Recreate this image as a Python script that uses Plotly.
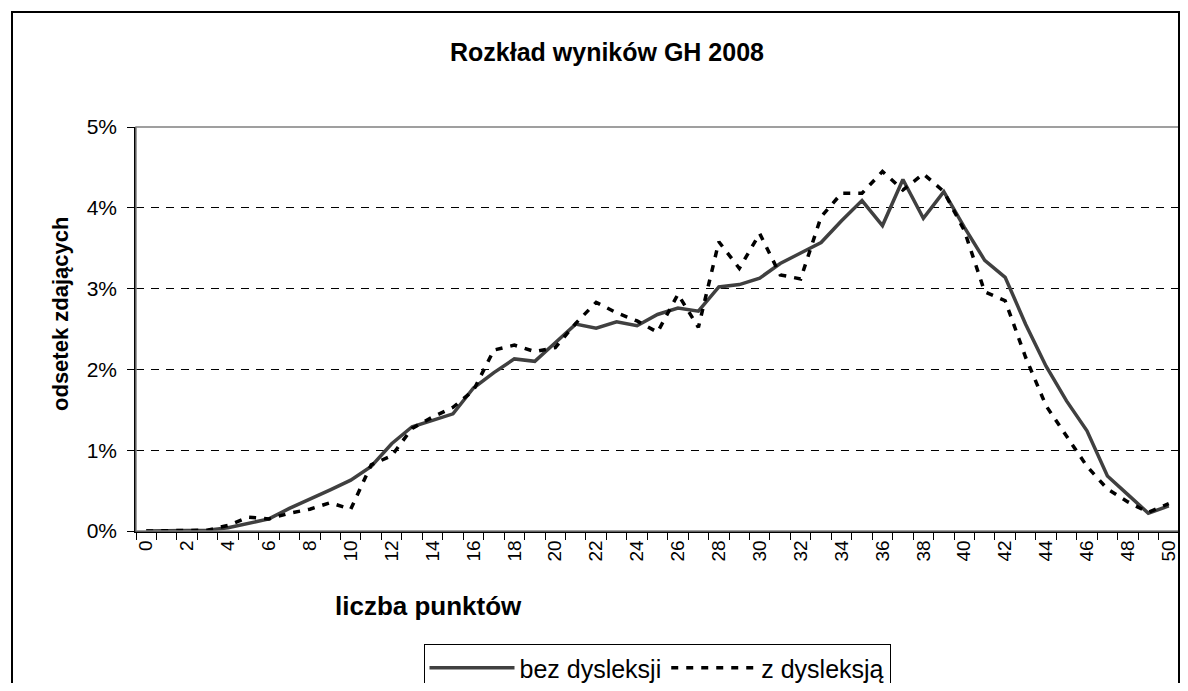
"""
Rozkład wyników GH 2008 - uczniowie bez dysleksji vs z dysleksją.
"""

import plotly.graph_objects as go

# Liczba punktów (0-50)
points = list(range(51))

# Odsetek zdających [%]
bez_dysleksji = [
    0.00, 0.00, 0.01, 0.01, 0.04, 0.10, 0.15, 0.28, 0.39, 0.51,
    0.63, 0.80, 1.08, 1.29, 1.37, 1.45, 1.77, 1.96, 2.13, 2.10,
    2.33, 2.56, 2.51, 2.59, 2.54, 2.68, 2.76, 2.72, 3.02, 3.05,
    3.13, 3.31, 3.44, 3.57, 3.84, 4.09, 3.78, 4.35, 3.87, 4.20,
    3.76, 3.35, 3.14, 2.56, 2.04, 1.61, 1.24, 0.68, 0.45, 0.22,
    0.31,
]
z_dysleksja = [
    0.00, 0.00, 0.00, 0.01, 0.07, 0.17, 0.15, 0.22, 0.27, 0.35,
    0.27, 0.82, 0.93, 1.27, 1.41, 1.53, 1.74, 2.24, 2.30, 2.22,
    2.27, 2.57, 2.83, 2.70, 2.60, 2.46, 2.93, 2.52, 3.58, 3.25,
    3.68, 3.17, 3.12, 3.89, 4.18, 4.18, 4.45, 4.22, 4.42, 4.20,
    3.72, 2.96, 2.85, 2.15, 1.55, 1.18, 0.80, 0.52, 0.36, 0.23,
    0.34,
]

y_ticks = [0, 1, 2, 3, 4, 5]
y_labels = ["0%", "1%", "2%", "3%", "4%", "5%"]
x_labels = list(range(0, 51, 2))

FONT = "Liberation Sans, Arial, sans-serif"

# strona html ma domyślny margines 8px - przesuwamy cały wykres o 8px
# i zmniejszamy go tak, by nie pojawiły się paski przewijania
OFF = 8
W, H = 1188 - 2 * OFF, 691 - 2 * OFF
PL, PR, PT, PB = 136, 1179, 127, 531   # obszar wykresu w pikselach strony
PW, PH = PR - PL, PB - PT


def px(x):
    return (x - PL) / PW


def py(y):
    return (PB - y) / PH


fig = go.Figure()

fig.add_trace(go.Scatter(
    x=points, y=bez_dysleksji, name="bez dysleksji",
    mode="lines", line=dict(color="#404040", width=3.5),
))
fig.add_trace(go.Scatter(
    x=points, y=z_dysleksja, name="z dysleksją",
    mode="lines", line=dict(color="black", width=3.5, dash="7px,8px"),
))

fig.update_xaxes(
    range=[-0.5, 50.5],
    tickvals=x_labels,
    ticktext=[str(v) for v in x_labels],
    tickangle=-90,
    ticks="",
    minor=dict(ticks="outside", tick0=0.5, dtick=1, ticklen=7,
               tickcolor="black", tickwidth=1),
    showline=True, linecolor="black", linewidth=1.5,
    showgrid=False, zeroline=False,
    tickfont=dict(family=FONT, size=19, color="black"),
)
fig.update_yaxes(
    range=[0, 5],
    tickvals=y_ticks,
    ticktext=y_labels,
    ticks="outside", ticklen=7, tickcolor="black",
    ticklabelstandoff=6,
    showline=True, linecolor="black", linewidth=1.5,
    showgrid=True, gridcolor="black", gridwidth=1, griddash="8px,7px",
    zeroline=False,
    tickfont=dict(family=FONT, size=21, color="black"),
)

# ramka obszaru wykresu i całego wykresu
fig.add_shape(type="rect", xref="paper", yref="paper", x0=0, x1=1, y0=0, y1=1,
              line=dict(color="#808080", width=1.5), layer="above")
fig.add_shape(type="rect", xref="paper", yref="paper",
              x0=px(12), x1=px(1179), y0=py(760), y1=py(12),
              line=dict(color="black", width=2), layer="above")

fig.add_annotation(text="<b>Rozkład wyników GH 2008</b>", xref="paper", yref="paper",
                   x=px(607), y=py(52), showarrow=False,
                   xanchor="center", yanchor="middle",
                   font=dict(family=FONT, size=25, color="black"))
fig.add_annotation(text="<b>liczba punktów</b>", xref="paper", yref="paper",
                   x=px(428), y=py(606), showarrow=False,
                   xanchor="center", yanchor="middle",
                   font=dict(family=FONT, size=26, color="black"))
fig.add_annotation(text="<b>odsetek zdających</b>", xref="paper", yref="paper",
                   x=px(60), y=py(314), showarrow=False,
                   textangle=-90, xanchor="center", yanchor="middle",
                   font=dict(family=FONT, size=22, color="black"))

fig.update_layout(
    width=W, height=H,
    margin=dict(l=PL - OFF, r=W - (PR - OFF), t=PT - OFF, b=H - (PB - OFF),
                autoexpand=False),
    plot_bgcolor="white", paper_bgcolor="white",
    showlegend=True,
    legend=dict(
        orientation="h", x=px(657), y=py(644),
        xanchor="center", yanchor="top",
        bordercolor="black", borderwidth=1,
        font=dict(family=FONT, size=25, color="black"),
        itemwidth=85,
    ),
)

fig.write_html("out.html")
